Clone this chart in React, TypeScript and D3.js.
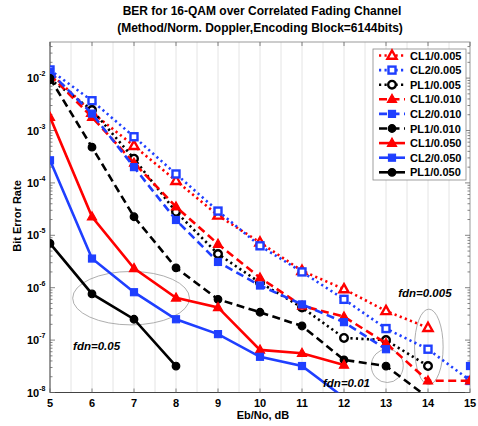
import React, {useEffect, useRef} from 'react';
import * as d3 from 'd3';

// Eb/No (dB) values on the x axis
const ebno = [5, 6, 7, 8, 9, 10, 11, 12, 13, 14, 15];

// BER per method / normalised doppler (null = no point)
const cl1_005 = [1.26e-2, 2.2e-3, 5.1e-4, 1.1e-4, 2.4e-5, 7.3e-6, 2.1e-6, 9.4e-7, 3.6e-7, 1.72e-7, null];
const cl2_005 = [1.43e-2, 3.7e-3, 7.6e-4, 1.48e-4, 2.9e-5, 6.3e-6, 2.0e-6, 6.0e-7, 1.66e-7, 6.7e-8, 1.7e-8];
const pl1_005 = [9.5e-3, 2.46e-3, 2.9e-4, 2.8e-5, 4.4e-6, 1.25e-6, 4.2e-7, 1.1e-7, 1.0e-7, 3.2e-8, null];
const cl1_010 = [1.15e-2, 1.8e-3, 2.4e-4, 3.5e-5, 6.8e-6, 1.55e-6, 4.5e-7, 2.8e-7, 8.7e-8, 1.68e-8, 1.68e-8];
const cl2_010 = [1.3e-2, 2.1e-3, 2.0e-4, 1.96e-5, 3.1e-6, 1.1e-6, 4.8e-7, 2.2e-7, 6.7e-8, null, 3.2e-8];
const pl1_010 = [9.9e-3, 4.8e-4, 2.26e-5, 2.4e-6, 6.0e-7, 3.4e-7, 1.86e-7, 4.2e-8, 3.2e-8, 8e-9, null];
const cl1_050 = [1.8e-3, 2.26e-5, 2.34e-6, 6.4e-7, 4.2e-7, 6.5e-8, 5.6e-8, 3.35e-8, null, null, null];
const cl2_050 = [2.7e-4, 3.6e-6, 8.2e-7, 2.5e-7, 1.3e-7, 4.8e-8, 3.2e-8, 8e-9, null, null, null];
const pl1_050 = [7.0e-6, 7.6e-7, 2.5e-7, 3.2e-8, null, null, null, null, null, null, null];

const seriesNames = ['CL1/0.005', 'CL2/0.005', 'PL1/0.005', 'CL1/0.010', 'CL2/0.010', 'PL1/0.010', 'CL1/0.050', 'CL2/0.050', 'PL1/0.050'];
const seriesValues = [cl1_005, cl2_005, pl1_005, cl1_010, cl2_010, pl1_010, cl1_050, cl2_050, pl1_050];

const xTicks = [5, 6, 7, 8, 9, 10, 11, 12, 13, 14, 15];
const yExponents = [-8, -7, -6, -5, -4, -3, -2];

// annotation ellipses: centre (Eb/No, log10 BER), radii (dB, decades)
const notes = [
    {label: 'fdn=0.05', x: 5.55, y: -7.19, ex: 6.93, ey: -6.2, rx: 1.39, ry: 0.51},
    {label: 'fdn=0.01', x: 11.5, y: -7.9, ex: 13.03, ey: -7.49, rx: 0.38, ry: 0.32},
    {label: 'fdn=0.005', x: 13.29, y: -6.18, ex: 14.02, ey: -7.13, rx: 0.34, ry: 0.72},
];

const RED = '#ff0000';
const BLUE = '#1f3fff';
const BLACK = '#000000';

export default function App() {
    const svgRef = useRef(null);

    useEffect(() => {
        const W = 478, H = 426;
        const margin = {top: 42, left: 50, right: 8, bottom: 33.5};
        const width = W - margin.left - margin.right;
        const height = H - margin.top - margin.bottom;
        const font = '"Liberation Sans", Arial, Helvetica, sans-serif';

        const svg = d3.select(svgRef.current);
        svg.selectAll('*').remove();
        svg.attr('width', W).attr('height', H).style('font-family', font);

        svg.append('rect').attr('width', W).attr('height', H).attr('fill', 'white');

        const xScale = d3.scaleLinear().domain([5, 15]).range([0, width]);
        const yScale = d3.scaleLog().domain([1e-8, Math.pow(10, -1.311)]).range([height, 0]);

        const g = svg.append('g').attr('transform', `translate(${margin.left},${margin.top})`);

        svg.append('defs').append('clipPath').attr('id', 'plotclip')
            .append('rect').attr('width', width).attr('height', height);

        // vertical grid every 0.5 dB
        g.append('g')
            .selectAll('line')
            .data(d3.range(5.5, 15, 0.5))
            .enter()
            .append('line')
            .attr('x1', d => xScale(d)).attr('x2', d => xScale(d))
            .attr('y1', 0).attr('y2', height)
            .attr('stroke', '#e4e4e4')
            .attr('stroke-width', 1);

        // frame
        g.append('rect')
            .attr('width', width).attr('height', height)
            .attr('fill', 'none').attr('stroke', '#9a9a9a').attr('stroke-width', 1);
        g.append('line').attr('x1', 0).attr('x2', width).attr('y1', height).attr('y2', height)
            .attr('stroke', '#444').attr('stroke-width', 1.2);
        g.append('line').attr('x1', 0).attr('x2', 0).attr('y1', 0).attr('y2', height)
            .attr('stroke', '#666').attr('stroke-width', 1);

        // ticks (inward, all four sides)
        const ticks = g.append('g').attr('stroke', '#666').attr('stroke-width', 0.8);
        xTicks.forEach(t => {
            ticks.append('line').attr('x1', xScale(t)).attr('x2', xScale(t)).attr('y1', height).attr('y2', height - 4);
            ticks.append('line').attr('x1', xScale(t)).attr('x2', xScale(t)).attr('y1', 0).attr('y2', 4);
        });
        yExponents.forEach(e => {
            const y = yScale(Math.pow(10, e));
            ticks.append('line').attr('x1', 0).attr('x2', 5).attr('y1', y).attr('y2', y);
            ticks.append('line').attr('x1', width).attr('x2', width - 5).attr('y1', y).attr('y2', y);
        });
        d3.range(-8, -1).forEach(e => {
            d3.range(2, 10).forEach(k => {
                const v = k * Math.pow(10, e);
                if (v > yScale.domain()[1]) return;
                const y = yScale(v);
                ticks.append('line').attr('x1', 0).attr('x2', 2.5).attr('y1', y).attr('y2', y);
                ticks.append('line').attr('x1', width).attr('x2', width - 2.5).attr('y1', y).attr('y2', y);
            });
        });

        // x tick labels
        g.append('g')
            .selectAll('text')
            .data(xTicks)
            .enter()
            .append('text')
            .attr('x', d => xScale(d))
            .attr('y', height + 14.5)
            .attr('text-anchor', 'middle')
            .attr('font-size', '11px')
            .attr('font-weight', 'bold')
            .text(d => d);

        // y tick labels 10^n
        yExponents.forEach(e => {
            const t = g.append('text')
                .attr('x', -23)
                .attr('y', yScale(Math.pow(10, e)) + 4)
                .attr('font-size', '11px')
                .attr('font-weight', 'bold');
            t.append('tspan').text('10');
            t.append('tspan').attr('font-size', '7px').attr('dy', -6).text(e);
        });

        // axis labels
        svg.append('text')
            .attr('x', margin.left + width / 2 + 3)
            .attr('y', 419)
            .attr('text-anchor', 'middle')
            .attr('font-size', '11px')
            .attr('font-weight', 'bold')
            .text('Eb/No, dB');

        svg.append('text')
            .attr('transform', 'rotate(-90)')
            .attr('x', -216)
            .attr('y', 21)
            .attr('text-anchor', 'middle')
            .attr('font-size', '11px')
            .attr('font-weight', 'bold')
            .text('Bit Error Rate');

        // title
        svg.append('text')
            .attr('x', 262).attr('y', 15)
            .attr('text-anchor', 'middle')
            .attr('font-size', '12px').attr('font-weight', 'bold')
            .text('BER for 16-QAM over Correlated Fading Channel');
        svg.append('text')
            .attr('x', 260).attr('y', 32)
            .attr('text-anchor', 'middle')
            .attr('font-size', '12px').attr('font-weight', 'bold')
            .text('(Method/Norm. Doppler,Encoding Block=6144bits)');

        const colors = [RED, BLUE, BLACK, RED, BLUE, BLACK, RED, BLUE, BLACK];
        const kinds = ['tri', 'sq', 'circ', 'tri', 'sq', 'circ', 'tri', 'sq', 'circ'];
        const dashes = ['2.2,3.3', '2.2,3.3', '2.2,3.3', '8,4.5', '8,4.5', '8,4.5', null, null, null];

        const drawMarker = (sel, kind, color, open) => {
            let m;
            if (kind === 'tri') {
                m = sel.append('path').attr('d', 'M0,-5L4.6,3.2L-4.6,3.2Z');
            } else if (kind === 'sq') {
                m = sel.append('rect').attr('x', -3.5).attr('y', -3.5).attr('width', 7).attr('height', 7);
            } else {
                m = sel.append('circle').attr('r', 3.8);
            }
            m.attr('fill', open ? 'white' : color)
                .attr('stroke', color)
                .attr('stroke-width', open ? 2.4 : 1.2);
        };

        // annotations (ellipses)
        notes.forEach(n => {
            const cy = yScale(Math.pow(10, n.ey));
            g.append('ellipse')
                .attr('cx', xScale(n.ex))
                .attr('cy', cy)
                .attr('rx', xScale(n.ex + n.rx) - xScale(n.ex))
                .attr('ry', cy - yScale(Math.pow(10, n.ey + n.ry)))
                .attr('fill', 'none')
                .attr('stroke', '#999')
                .attr('stroke-width', 0.8);
        });

        const plot = g.append('g').attr('clip-path', 'url(#plotclip)');

        const line = d3.line()
            .defined(d => d.v !== null)
            .x(d => xScale(d.x))
            .y(d => yScale(d.v));

        seriesValues.forEach((vals, i) => {
            const data = vals.map((v, j) => ({x: ebno[j], v}));
            plot.append('path')
                .datum(data)
                .attr('fill', 'none')
                .attr('stroke', colors[i])
                .attr('stroke-width', 2.6)
                .attr('stroke-dasharray', dashes[i])
                .attr('d', line);
            data.filter(d => d.v !== null).forEach(d => {
                const mg = plot.append('g').attr('transform', `translate(${xScale(d.x)},${yScale(d.v)})`);
                drawMarker(mg, kinds[i], colors[i], i < 3);
            });
        });

        // annotation labels
        notes.forEach(n => {
            g.append('text')
                .attr('x', xScale(n.x))
                .attr('y', yScale(Math.pow(10, n.y)))
                .attr('font-size', '11.5px')
                .attr('font-weight', 'bold')
                .attr('font-style', 'italic')
                .text(n.label);
        });

        // legend
        const lg = svg.append('g').attr('transform', 'translate(373,49)');
        lg.append('rect')
            .attr('width', 93).attr('height', 131)
            .attr('fill', 'white').attr('stroke', '#888').attr('stroke-width', 0.8);
        seriesNames.forEach((name, i) => {
            const y = 6.5 + i * 14.6;
            lg.append('line')
                .attr('x1', 6).attr('x2', 32).attr('y1', y).attr('y2', y)
                .attr('stroke', colors[i]).attr('stroke-width', 2.6)
                .attr('stroke-dasharray', dashes[i]);
            drawMarker(lg.append('g').attr('transform', `translate(19,${y})`), kinds[i], colors[i], i < 3);
            lg.append('text')
                .attr('x', 37).attr('y', y + 4)
                .attr('font-size', '11px').attr('font-weight', 'bold')
                .text(name);
        });
    }, []);

    return (
        <div style={{position: 'absolute', left: 0, top: 0, background: 'white'}}>
            <svg ref={svgRef} style={{display: 'block'}}></svg>
        </div>
    );
}
